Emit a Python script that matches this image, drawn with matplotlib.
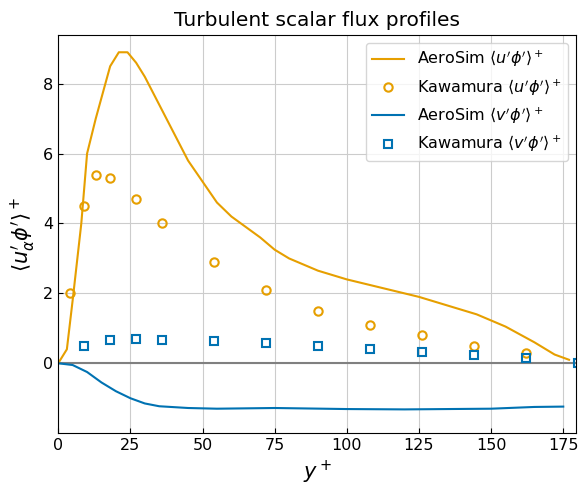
import numpy as np
import matplotlib.pyplot as plt

# AeroSim profiles
aero_y = [0, 3, 5, 8, 10, 13, 15, 18, 21, 24, 27, 30, 35, 40, 45, 50, 55, 60, 70, 75, 80, 90,
          100, 110, 125, 135, 145, 155, 165, 172, 177]
aero_u = [0, 0.4, 1.8, 4.0, 6.0, 7.0, 7.6, 8.5, 8.9, 8.9, 8.6, 8.2, 7.4, 6.6, 5.8, 5.2, 4.6, 4.2,
          3.6, 3.25, 3.0, 2.65, 2.4, 2.2, 1.9, 1.65, 1.4, 1.05, 0.6, 0.25, 0.1]
aero_yv = [0, 5, 10, 15, 20, 25, 30, 35, 45, 55, 75, 100, 120, 150, 165, 175]
aero_v = [0, -0.05, -0.25, -0.55, -0.8, -1.0, -1.15, -1.23, -1.28, -1.3, -1.28, -1.31, -1.32,
          -1.3, -1.25, -1.24]

# Kawamura DNS
kaw_yu = [4.2, 9, 13, 18, 27, 36, 54, 72, 90, 108, 126, 144, 162]
kaw_u = [2.0, 4.5, 5.4, 5.3, 4.7, 4.0, 2.9, 2.1, 1.5, 1.1, 0.8, 0.5, 0.3]
kaw_yv = [9, 18, 27, 36, 54, 72, 90, 108, 126, 144, 162, 180]
kaw_v = [0.5, 0.67, 0.7, 0.67, 0.63, 0.58, 0.5, 0.42, 0.33, 0.25, 0.15, 0.0]

orange = '#E69F00'
blue = '#0072B2'

fig, ax = plt.subplots(figsize=(5.88, 4.9), dpi=100)
ax.axhline(0, color='grey', linewidth=1.5, zorder=1)
ax.plot(aero_y, aero_u, color=orange, linewidth=1.5, label=r"AeroSim $\langle u'\phi'\rangle^+$")
ax.plot(kaw_yu, kaw_u, 'o', mfc='none', mec=orange, mew=1.5, ms=6,
        label=r"Kawamura $\langle u'\phi'\rangle^+$")
ax.plot(aero_yv, aero_v, color=blue, linewidth=1.5, label=r"AeroSim $\langle v'\phi'\rangle^+$")
ax.plot(kaw_yv, kaw_v, 's', mfc='none', mec=blue, mew=1.5, ms=6,
        label=r"Kawamura $\langle v'\phi'\rangle^+$")

ax.set_xlim(0, 179.5)
ax.set_ylim(-2.0, 9.4)
ax.set_yticks([0, 2, 4, 6, 8])
ax.set_xticks([0, 25, 50, 75, 100, 125, 150, 175])
ax.tick_params(direction='in', labelsize=11.5)
ax.grid(color='#cccccc', linewidth=0.8)
ax.set_axisbelow(True)
ax.set_xlabel(r'$y^+$', fontsize=15)
ax.set_ylabel(r"$\langle u_\alpha'\phi'\rangle^+$", fontsize=15)
ax.set_title('Turbulent scalar flux profiles', fontsize=14.5)
ax.legend(fontsize=11.5, loc='upper right')
plt.subplots_adjust(left=0.099, right=0.98, top=0.929, bottom=0.116)
plt.savefig('out.png', dpi=100)
